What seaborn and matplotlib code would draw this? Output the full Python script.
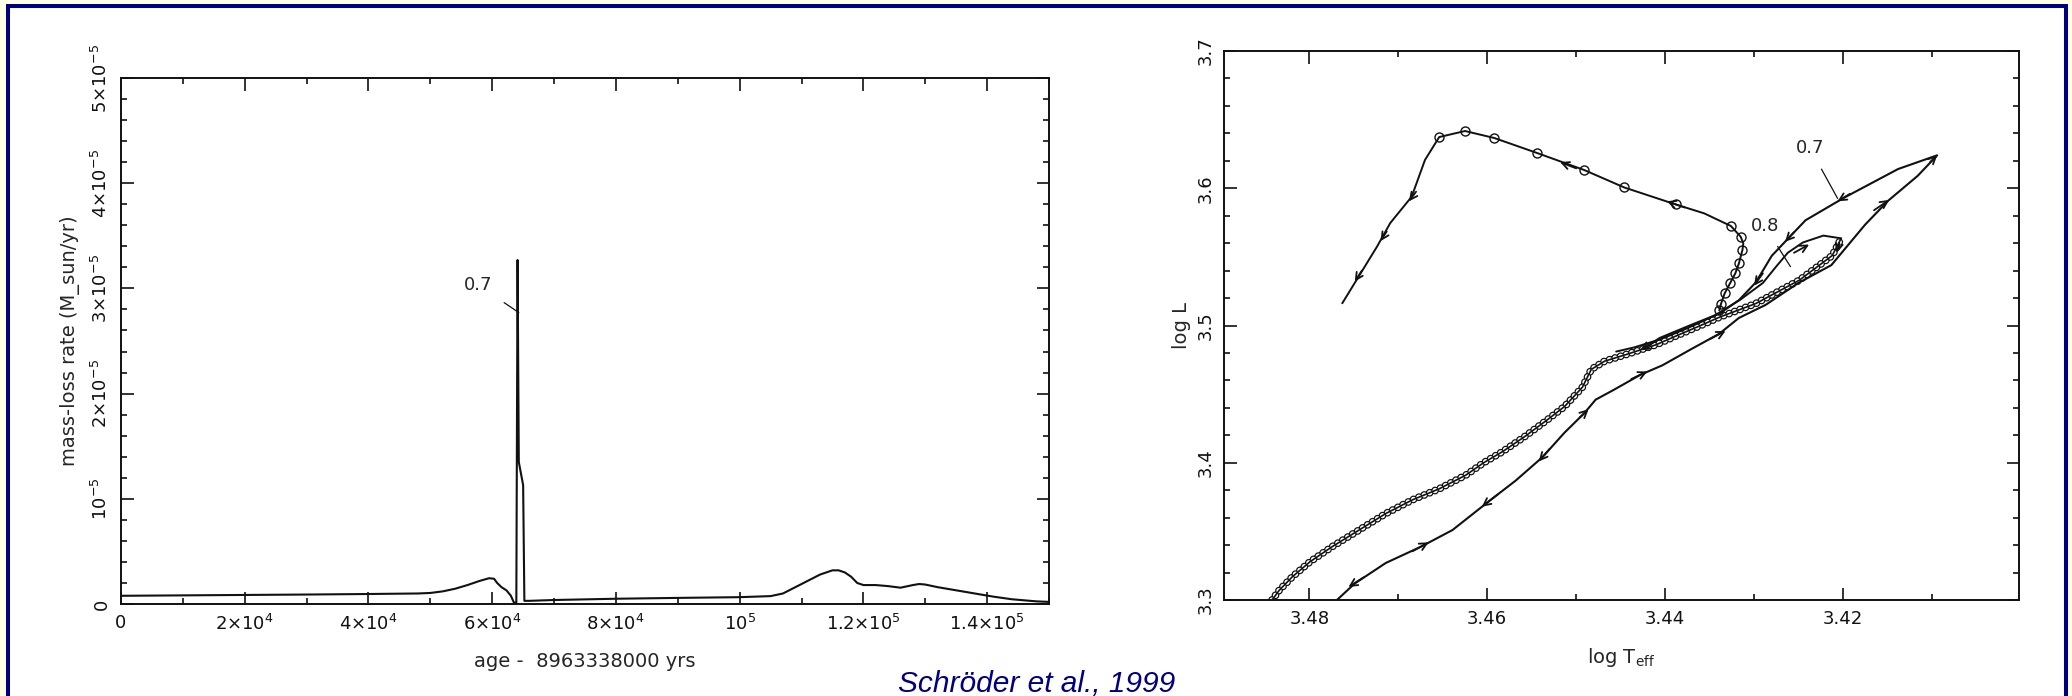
import numpy as np
import pandas as pd
import matplotlib
matplotlib.use("Agg")
import matplotlib.pyplot as plt
from matplotlib.patches import Rectangle
from matplotlib.ticker import MultipleLocator, FixedLocator
import seaborn as sns

# ---------------- left panel: mass-loss rate vs. age ----------------
age_kyr = [0, 10, 20, 30, 40, 48, 50, 52, 54, 56, 58, 59.5, 60.3, 60.8, 61.5,
           62.3, 63.0, 63.5, 63.9, 64.1, 64.3, 65.0, 65.2, 66, 70, 80, 90, 100,
           105, 107, 109, 111, 113, 115, 116, 117, 118, 119, 120, 122, 124, 126,
           128, 129, 130, 132, 135, 138, 141, 144, 146, 148, 150]
rate_1e6 = [0.78, 0.82, 0.86, 0.90, 0.95, 1.00, 1.05, 1.20, 1.45, 1.80, 2.20, 2.45, 2.40, 2.00, 1.60,
            1.30, 0.80, 0.15, 0.10, 32.7, 13.5, 11.3, 0.30, 0.30, 0.38, 0.50, 0.58, 0.65,
            0.75, 1.00, 1.60, 2.20, 2.80, 3.20, 3.20, 3.00, 2.60, 2.00, 1.80, 1.80, 1.70, 1.55,
            1.80, 1.90, 1.85, 1.60, 1.30, 1.00, 0.70, 0.45, 0.35, 0.25, 0.20]

age_ticks = [0, 2e4, 4e4, 6e4, 8e4, 1e5, 1.2e5, 1.4e5]
age_labels = ["0", r"$2{\times}10^4$", r"$4{\times}10^4$", r"$6{\times}10^4$",
              r"$8{\times}10^4$", r"$10^5$", r"$1.2{\times}10^5$", r"$1.4{\times}10^5$"]
rate_ticks = [0, 1e-5, 2e-5, 3e-5, 4e-5, 5e-5]
rate_labels = ["0", r"$10^{-5}$", r"$2{\times}10^{-5}$", r"$3{\times}10^{-5}$",
               r"$4{\times}10^{-5}$", r"$5{\times}10^{-5}$"]

# ---------------- right panel: HR diagram tracks ----------------
# branch drawn with dense open circles (lower left -> small loop tip)
dense_T = [3.4842, 3.4834, 3.4819, 3.4799, 3.4774, 3.4744, 3.4714, 3.4684, 3.4654, 3.4624,
           3.4604, 3.4583, 3.4558, 3.4533, 3.4513, 3.4493, 3.4483, 3.4468, 3.4443, 3.4410,
           3.4389, 3.4360, 3.4339, 3.4298, 3.4249, 3.4212, 3.4202]
dense_L = [3.300, 3.307, 3.317, 3.328, 3.339, 3.351, 3.363, 3.373, 3.381, 3.391,
           3.400, 3.408, 3.419, 3.431, 3.441, 3.455, 3.468, 3.474, 3.479, 3.486,
           3.492, 3.500, 3.506, 3.516, 3.533, 3.551, 3.5635]

# upper track (sparse circles, then descending without circles)
upper_T = [3.4339, 3.4337, 3.4333, 3.4327, 3.4321, 3.4317, 3.4313, 3.4312, 3.4315, 3.4326,
           3.4356, 3.4388, 3.4446, 3.4491, 3.4544, 3.4592, 3.4625, 3.4654, 3.4670, 3.4685,
           3.4709, 3.4724, 3.4763]
upper_L = [3.511, 3.516, 3.5234, 3.5307, 3.538, 3.5452, 3.555, 3.5598, 3.5647, 3.5725,
           3.5817, 3.5882, 3.6006, 3.6133, 3.6257, 3.6366, 3.6417, 3.6373, 3.6206, 3.5938,
           3.5747, 3.5574, 3.5162]
upper_circles = [0, 1, 2, 3, 4, 5, 6, 8, 9, 11, 12, 13, 14, 15, 16, 17]

# plain track labelled 0.7 (up from the bottom, big loop, back down)
track7_T = [3.4769, 3.4749, 3.4714, 3.4674, 3.4639, 3.4598, 3.4568, 3.4538, 3.4513, 3.4491,
            3.4478, 3.4458, 3.4428, 3.4403, 3.4370, 3.4339, 3.4317, 3.4287, 3.4250, 3.4213,
            3.4175, 3.4149, 3.4116, 3.4094, 3.4138, 3.4199, 3.4242, 3.4261, 3.4280, 3.4298,
            3.4317, 3.4339, 3.4376, 3.4406, 3.4425]
track7_L = [3.300, 3.312, 3.327, 3.339, 3.351, 3.372, 3.387, 3.404, 3.422, 3.436,
            3.446, 3.453, 3.464, 3.471, 3.483, 3.494, 3.5055, 3.515, 3.531, 3.544,
            3.5735, 3.591, 3.609, 3.624, 3.614, 3.593, 3.5767, 3.5638, 3.5508, 3.5314,
            3.5184, 3.5087, 3.499, 3.4909, 3.4828]

# plain track from the small loop tip (labelled 0.8)
track8_T = [3.4202, 3.4222, 3.4245, 3.4262, 3.4275, 3.4290, 3.4315, 3.4345, 3.4375, 3.4405,
            3.4435, 3.4455]
track8_L = [3.5635, 3.5655, 3.5605, 3.553, 3.543, 3.531, 3.519, 3.507, 3.498, 3.490,
            3.484, 3.481]

# arrowheads on the tracks: (T_from, L_from, T_to, L_to)
arrows = [
    (3.4680, 3.5975, 3.4688, 3.5905), (3.4713, 3.5685, 3.4720, 3.5615),
    (3.4741, 3.5400, 3.4749, 3.5320), (3.4500, 3.6145, 3.4518, 3.6190),
    (3.4378, 3.5860, 3.4398, 3.5905),
    (3.4739, 3.3165, 3.4756, 3.3095), (3.4684, 3.3355, 3.4666, 3.3420),
    (3.4588, 3.3770, 3.4606, 3.3680), (3.4530, 3.4100, 3.4542, 3.4010),
    (3.4496, 3.4330, 3.4486, 3.4390), (3.4438, 3.4610, 3.4420, 3.4665),
    (3.4350, 3.4900, 3.4332, 3.4960),
    (3.4165, 3.5840, 3.4148, 3.5915), (3.4102, 3.6190, 3.4094, 3.6240),
    (3.4192, 3.5960, 3.4206, 3.5905), (3.4255, 3.5680, 3.4265, 3.5610),
    (3.4290, 3.5380, 3.4300, 3.5290), (3.4412, 3.4880, 3.4428, 3.4820),
    (3.4255, 3.5530, 3.4238, 3.5590), (3.4204, 3.5600, 3.4207, 3.5530),
]

T_ticks = [3.48, 3.46, 3.44, 3.42]
T_labels = ["3.48", "3.46", "3.44", "3.42"]
L_ticks = [3.3, 3.4, 3.5, 3.6, 3.7]
L_labels = ["3.3", "3.4", "3.5", "3.6", "3.7"]

CREAM = "#FFFFE6"
NAVY = "#000080"
INK = "#111111"

sns.set_theme(style="ticks")
plt.rcParams["font.family"] = ["DejaVu Sans"]
plt.rcParams["mathtext.fontset"] = "dejavusans"
plt.rcParams["lines.scale_dashes"] = False
plt.rcParams["axes.edgecolor"] = INK
plt.rcParams["axes.linewidth"] = 1.4

W, H = 2072, 696
fig = plt.figure(figsize=(W / 100, H / 100), dpi=100, facecolor=CREAM)
fig.patches.append(Rectangle((8 / W, -0.05), 2058 / W, 1 - 6 / H + 0.05,
                             transform=fig.transFigure, facecolor="white",
                             edgecolor=NAVY, lw=2.9, zorder=-10))

ax1 = fig.add_axes([121 / W, 1 - 604 / H, 928 / W, 526 / H])
ax2 = fig.add_axes([1224 / W, 1 - 600 / H, 795 / W, 549 / H])

# ---- left panel
df_rate = pd.DataFrame({"age": np.array(age_kyr) * 1e3, "rate": np.array(rate_1e6) * 1e-6})
sns.lineplot(data=df_rate, x="age", y="rate", ax=ax1, color=INK, lw=1.5,
             sort=False, estimator=None)
ax1.set_xlim(0, 1.5e5)
ax1.set_ylim(0, 5e-5)
ax1.xaxis.set_major_locator(FixedLocator(age_ticks))
ax1.set_xticklabels(age_labels)
ax1.xaxis.set_minor_locator(MultipleLocator(1e4))
ax1.yaxis.set_major_locator(FixedLocator(rate_ticks))
ax1.set_yticklabels(rate_labels)
ax1.yaxis.set_minor_locator(MultipleLocator(2e-6))
ax1.set_xlabel("age -  8963338000 yrs", fontsize=14, labelpad=13)
ax1.set_ylabel("mass-loss rate (M_sun/yr)", fontsize=14, labelpad=8)
ax1.annotate("0.7", xy=(6.43e4, 2.77e-5), xytext=(5.78e4, 3.03e-5),
             fontsize=13, ha="center", va="center",
             arrowprops=dict(arrowstyle="-", lw=0.9, color=INK, shrinkA=7, shrinkB=0))

# ---- right panel
ring = dict(linestyle=(0, (0.001, 4.2)), dash_capstyle="round")
ax2.plot(dense_T, dense_L, color=INK, lw=5.6, **ring)
ax2.plot(dense_T, dense_L, color="white", lw=3.8, **ring)
sns.lineplot(x=dense_T, y=dense_L, ax=ax2, color=INK, lw=1.2, sort=False, estimator=None)

sns.lineplot(x=upper_T, y=upper_L, ax=ax2, color=INK, lw=1.4, sort=False, estimator=None,
             marker="o", markersize=6.5, markerfacecolor="none", markeredgecolor=INK,
             markeredgewidth=1.0, markevery=upper_circles)
sns.lineplot(x=track7_T, y=track7_L, ax=ax2, color=INK, lw=1.5, sort=False, estimator=None)
sns.lineplot(x=track8_T, y=track8_L, ax=ax2, color=INK, lw=1.4, sort=False, estimator=None)

for t0, l0, t1, l1 in arrows:
    ax2.annotate("", xy=(t1, l1), xytext=(t0, l0),
                 arrowprops=dict(arrowstyle="->", lw=1.3, color=INK,
                                 mutation_scale=13, shrinkA=0, shrinkB=0))

ax2.annotate("0.7", xy=(3.4206, 3.5926), xytext=(3.4237, 3.6291), fontsize=13,
             ha="center", va="center",
             arrowprops=dict(arrowstyle="-", lw=0.9, color=INK, shrinkA=7, shrinkB=0))
ax2.annotate("0.8", xy=(3.4259, 3.5429), xytext=(3.4288, 3.5725), fontsize=13,
             ha="center", va="center",
             arrowprops=dict(arrowstyle="-", lw=0.9, color=INK, shrinkA=7, shrinkB=0))

ax2.set_xlim(3.4896, 3.4002)
ax2.set_ylim(3.3, 3.7)
ax2.xaxis.set_major_locator(FixedLocator(T_ticks))
ax2.set_xticklabels(T_labels)
ax2.xaxis.set_minor_locator(MultipleLocator(0.01))
ax2.yaxis.set_major_locator(FixedLocator(L_ticks))
ax2.set_yticklabels(L_labels)
ax2.yaxis.set_minor_locator(MultipleLocator(0.02))
ax2.set_xlabel(r"log T$_\mathregular{eff}$", fontsize=14, labelpad=13)
ax2.set_ylabel("log L", fontsize=14, labelpad=4)

for ax in (ax1, ax2):
    ax.set_facecolor("white")
    ax.grid(False)
    for s in ax.spines.values():
        s.set_visible(True)
        s.set_color(INK)
    ax.tick_params(which="both", direction="in", top=True, right=True, colors=INK,
                   labelsize=13, width=1.2)
    ax.tick_params(which="major", length=9, pad=7)
    ax.tick_params(which="minor", length=4)
    for lab in ax.get_yticklabels():
        lab.set_rotation(90)
        lab.set_va("center")

fig.text(0.5005, 1 - 692 / H, "Schröder et al., 1999", color=NAVY, fontsize=21.5,
         style="italic", family=["Liberation Sans", "DejaVu Sans"],
         ha="center", va="baseline")

fig.savefig("out.png", dpi=100, facecolor=fig.get_facecolor())
